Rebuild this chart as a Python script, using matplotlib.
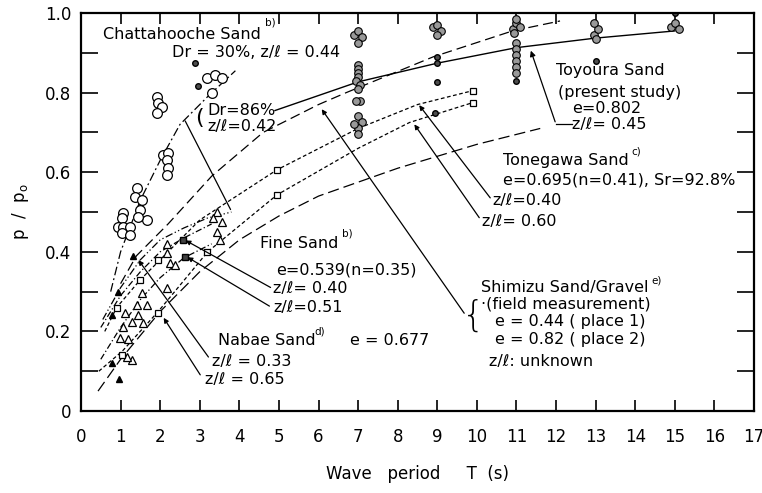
import numpy as np
import matplotlib
matplotlib.use("Agg")
import matplotlib.pyplot as plt
from matplotlib.ticker import MultipleLocator, FixedLocator

# ---- data ----
# curves (T in s, p/p0)
chatta30_T = [0.75, 1.0, 1.5, 2.0, 2.5, 3.2, 3.9]
chatta30_p = [0.30, 0.40, 0.53, 0.63, 0.72, 0.79, 0.855]
chatta86_T = [0.55, 1.0, 1.5, 2.0, 2.6, 3.2, 3.8]
chatta86_p = [0.23, 0.31, 0.38, 0.43, 0.46, 0.485, 0.50]
shimizu_T = [1.0, 1.4, 2.2, 3.3, 4.6, 6.0, 6.7, 8.9, 10.9, 12.1]
shimizu_p = [0.32, 0.39, 0.47, 0.59, 0.70, 0.77, 0.80, 0.89, 0.955, 0.98]
toyoura_line_T = [4.9, 7.0, 9.0, 11.0, 13.0, 15.0]
toyoura_line_p = [0.755, 0.827, 0.874, 0.913, 0.937, 0.955]
tone40_T = [0.6, 0.9, 1.5, 2.0, 3.0, 4.95, 7.0, 8.5, 9.9]
tone40_p = [0.20, 0.26, 0.33, 0.38, 0.48, 0.606, 0.71, 0.77, 0.805]
tone60_T = [0.45, 1.04, 1.95, 3.2, 4.95, 7.0, 8.3, 9.9]
tone60_p = [0.10, 0.15, 0.25, 0.40, 0.543, 0.66, 0.725, 0.775]
lower_T = [0.43, 1.0, 2.0, 3.0, 4.0, 5.0, 6.0, 8.0, 10.0, 11.6]
lower_p = [0.05, 0.13, 0.25, 0.35, 0.43, 0.49, 0.54, 0.61, 0.67, 0.71]
fine40_T = [0.5, 1.0, 1.5, 2.0, 2.6, 3.3]
fine40_p = [0.21, 0.29, 0.35, 0.40, 0.435, 0.47]
fine51_T = [0.5, 1.0, 1.5, 2.0, 2.6, 3.3]
fine51_p = [0.13, 0.21, 0.28, 0.335, 0.385, 0.42]

# points
circ_T = [1.92, 1.95, 2.04, 1.92, 2.07, 2.2, 2.17, 2.2, 2.17, 1.41, 1.36, 1.54, 1.49,
          1.67, 1.06, 1.04, 0.93, 1.06, 1.24, 1.04, 1.24, 1.44, 3.18, 3.38, 3.56, 3.3]
circ_p = [0.79, 0.773, 0.765, 0.75, 0.643, 0.648, 0.63, 0.61, 0.593, 0.56, 0.538, 0.53, 0.505,
          0.48, 0.497, 0.485, 0.462, 0.462, 0.462, 0.447, 0.442, 0.487, 0.837, 0.844, 0.836, 0.80]
chatta_dot_T = [2.88, 2.95]
chatta_dot_p = [0.874, 0.817]
tri_T = [3.43, 3.33, 3.56, 3.43, 3.51, 2.17, 2.17, 2.25, 2.37, 2.17, 1.54, 1.67, 1.41,
         1.11, 1.44, 1.29, 1.57, 1.06, 0.98, 1.19, 1.29, 1.16]
tri_p = [0.50, 0.485, 0.475, 0.45, 0.43, 0.42, 0.397, 0.372, 0.367, 0.31, 0.296, 0.266, 0.266,
         0.246, 0.241, 0.224, 0.221, 0.211, 0.183, 0.181, 0.128, 0.136]
trif_T = [0.78, 0.78, 0.96, 0.94, 1.31]
trif_p = [0.24, 0.12, 0.08, 0.30, 0.39]
sq_T = [0.91, 1.49, 1.94, 1.04, 1.95, 3.18, 4.95, 4.95, 9.9, 9.9]
sq_p = [0.26, 0.33, 0.38, 0.14, 0.246, 0.40, 0.606, 0.543, 0.805, 0.775]
sqf_T = [2.57, 2.63]
sqf_p = [0.43, 0.386]
toyoura_T = [6.9, 7.0, 7.1, 7.0, 7.0, 7.0, 7.0, 7.0, 6.95, 7.05, 7.0, 7.05, 6.95, 7.0, 7.1, 7.0, 6.9, 7.0,
             8.9, 9.0, 9.1, 9.0,
             10.9, 11.0, 11.1, 11.0, 10.95, 11.0, 11.0, 11.0, 11.0, 11.0, 11.0,
             12.95, 13.05, 13.0, 12.95,
             14.9, 15.0, 15.1]
toyoura_p = [0.945, 0.955, 0.94, 0.925, 0.87, 0.86, 0.85, 0.84, 0.83, 0.82, 0.81, 0.78, 0.78, 0.74, 0.725, 0.71, 0.72, 0.695,
             0.965, 0.97, 0.955, 0.945,
             0.96, 0.975, 0.965, 0.985, 0.95, 0.925, 0.91, 0.895, 0.88, 0.865, 0.85,
             0.945, 0.96, 0.935, 0.975,
             0.965, 0.975, 0.96]
dot_T = [9.0, 9.0, 9.0, 8.95, 11.0, 13.0, 15.0]
dot_p = [0.89, 0.874, 0.827, 0.75, 0.83, 0.88, 1.0]

xticks = list(range(0, 18))
yticks = [0.0, 0.2, 0.4, 0.6, 0.8, 1.0]
ytick_labels = ["0", "0.2", "0.4", "0.6", "0.8", "1.0"]

fig = plt.figure(figsize=(7.62, 4.93), dpi=100)
ax = fig.add_axes([0.1063, 0.1663, 0.8832, 0.8073])

k = "black"
ax.plot(chatta30_T, chatta30_p, color=k, lw=0.9, ls=(0, (7, 2.5, 1.5, 2.5)))
ax.plot(chatta86_T, chatta86_p, color=k, lw=0.9, ls=(0, (6, 2, 1, 2, 1, 2)))
ax.plot(shimizu_T, shimizu_p, color=k, lw=0.9, ls=(0, (8, 4)))
ax.plot(toyoura_line_T, toyoura_line_p, color=k, lw=1.0, ls="-")
ax.plot(tone40_T, tone40_p, color=k, lw=0.9, ls=(0, (3, 2)))
ax.plot(tone60_T, tone60_p, color=k, lw=0.9, ls=(0, (3, 2)))
ax.plot(lower_T, lower_p, color=k, lw=0.9, ls=(0, (9, 4)))
ax.plot(fine40_T, fine40_p, color=k, lw=0.9, ls=(0, (5, 2, 1, 2)))
ax.plot(fine51_T, fine51_p, color=k, lw=0.9, ls=(0, (5, 2, 1, 2)))

ax.plot(circ_T, circ_p, "o", ms=7, mfc="white", mec=k, mew=0.9, ls="none")
ax.plot(chatta_dot_T, chatta_dot_p, "o", ms=4, mfc="0.3", mec=k, ls="none")
ax.plot(tri_T, tri_p, "^", ms=5.5, mfc="white", mec=k, mew=0.9, ls="none")
ax.plot(trif_T, trif_p, "^", ms=5, mfc=k, mec=k, ls="none")
ax.plot(sq_T, sq_p, "s", ms=5, mfc="white", mec=k, mew=0.9, ls="none")
ax.plot(sqf_T, sqf_p, "s", ms=5, mfc="0.25", mec=k, ls="none")
ax.scatter(toyoura_T, toyoura_p, s=30, facecolor="0.6", edgecolor=k, linewidth=0.8, zorder=3)
ax.plot(dot_T, dot_p, "o", ms=4, mfc="0.3", mec=k, ls="none")

# axes styling
ax.set_xlim(0, 17)
ax.set_ylim(0, 1.0)
ax.xaxis.set_major_locator(FixedLocator(xticks))
ax.yaxis.set_major_locator(FixedLocator(yticks))
ax.yaxis.set_minor_locator(MultipleLocator(0.1))
ax.set_yticklabels(ytick_labels)
ax.tick_params(which="both", direction="in", top=True, right=True, width=1.2, color=k)
ax.tick_params(axis="x", which="major", length=8, labelsize=12, pad=12)
ax.tick_params(axis="y", which="both", length=12, labelsize=12, pad=7)
for s in ax.spines.values():
    s.set_linewidth(1.6)
ax.set_xlabel("Wave   period     T  (s)", fontsize=12, labelpad=14)
ax.set_ylabel("p  /  p$_\\mathregular{o}$", fontsize=12, labelpad=10)

fs = 11.5
# Chattahooche
ax.text(0.56, 0.945, "Chattahooche Sand", fontsize=fs, va="center")
ax.text(4.65, 0.975, "b)", fontsize=7.5, va="center")
ax.text(2.3, 0.9, "Dr = 30%, z/ℓ = 0.44", fontsize=fs, va="center")
ax.text(3.2, 0.756, "Dr=86%", fontsize=fs, va="center")
ax.text(3.2, 0.714, "z/ℓ=0.42", fontsize=fs, va="center")
ax.text(2.88, 0.735, "(", fontsize=16, va="center")
ax.annotate("", xy=(3.81, 0.50), xytext=(2.6, 0.735),
            arrowprops=dict(arrowstyle="-", lw=0.9, color=k))

# Toyoura
ax.text(12.0, 0.855, "Toyoura Sand", fontsize=fs, va="center")
ax.text(12.05, 0.80, "(present study)", fontsize=fs, va="center")
ax.text(12.4, 0.76, "e=0.802", fontsize=fs, va="center")
ax.text(12.4, 0.72, "z/ℓ= 0.45", fontsize=fs, va="center")
ax.plot([12.4, 12.0], [0.72, 0.72], color=k, lw=0.9)
ax.annotate("", xy=(11.34, 0.912), xytext=(12.0, 0.72),
            arrowprops=dict(arrowstyle="-|>", lw=0.9, color=k, mutation_scale=8))

# Tonegawa
ax.text(10.66, 0.63, "Tonegawa Sand", fontsize=fs, va="center")
ax.text(13.9, 0.652, "c)", fontsize=7.5, va="center")
ax.text(10.66, 0.58, "e=0.695(n=0.41), Sr=92.8%", fontsize=fs, va="center")
ax.text(10.4, 0.53, "z/ℓ=0.40", fontsize=fs, va="center")
ax.text(10.13, 0.477, "z/ℓ= 0.60", fontsize=fs, va="center")
ax.annotate("", xy=(8.5, 0.774), xytext=(10.38, 0.53),
            arrowprops=dict(arrowstyle="-|>", lw=0.9, color=k, mutation_scale=7))
ax.annotate("", xy=(8.38, 0.726), xytext=(10.1, 0.48),
            arrowprops=dict(arrowstyle="-|>", lw=0.9, color=k, mutation_scale=7))

# Fine sand
ax.text(4.52, 0.42, "Fine Sand", fontsize=fs, va="center")
ax.text(6.6, 0.447, "b)", fontsize=7.5, va="center")
ax.text(4.92, 0.354, "e=0.539(n=0.35)", fontsize=fs, va="center")
ax.text(4.85, 0.307, "z/ℓ= 0.40", fontsize=fs, va="center")
ax.text(4.85, 0.26, "z/ℓ=0.51", fontsize=fs, va="center")
ax.annotate("", xy=(2.58, 0.432), xytext=(4.85, 0.307),
            arrowprops=dict(arrowstyle="-|>", lw=0.9, color=k, mutation_scale=7))
ax.annotate("", xy=(2.63, 0.39), xytext=(4.82, 0.26),
            arrowprops=dict(arrowstyle="-|>", lw=0.9, color=k, mutation_scale=7))

# Nabae
ax.text(3.46, 0.178, "Nabae Sand", fontsize=fs, va="center")
ax.text(5.9, 0.2, "d)", fontsize=7.5, va="center")
ax.text(6.8, 0.178, "e = 0.677", fontsize=fs, va="center")
ax.text(3.3, 0.125, "z/ℓ = 0.33", fontsize=fs, va="center")
ax.text(3.13, 0.08, "z/ℓ = 0.65", fontsize=fs, va="center")
ax.annotate("", xy=(1.41, 0.385), xytext=(3.26, 0.13),
            arrowprops=dict(arrowstyle="-|>", lw=0.9, color=k, mutation_scale=7))
ax.annotate("", xy=(2.05, 0.24), xytext=(3.05, 0.085),
            arrowprops=dict(arrowstyle="-|>", lw=0.9, color=k, mutation_scale=7))

# Shimizu
ax.text(10.1, 0.31, "Shimizu Sand/Gravel", fontsize=fs, va="center")
ax.text(14.4, 0.328, "e)", fontsize=7.5, va="center")
ax.text(10.1, 0.268, "·(field measurement)", fontsize=fs, va="center")
ax.text(10.45, 0.225, "e = 0.44 ( place 1)", fontsize=fs, va="center")
ax.text(10.45, 0.18, "e = 0.82 ( place 2)", fontsize=fs, va="center")
ax.text(10.3, 0.125, "z/ℓ: unknown", fontsize=fs, va="center")
ax.text(9.62, 0.24, "{", fontsize=26, va="center", fontweight="light")
ax.annotate("", xy=(6.04, 0.764), xytext=(9.72, 0.24),
            arrowprops=dict(arrowstyle="-|>", lw=0.9, color=k, mutation_scale=7))

fig.savefig("out.png", dpi=100)
